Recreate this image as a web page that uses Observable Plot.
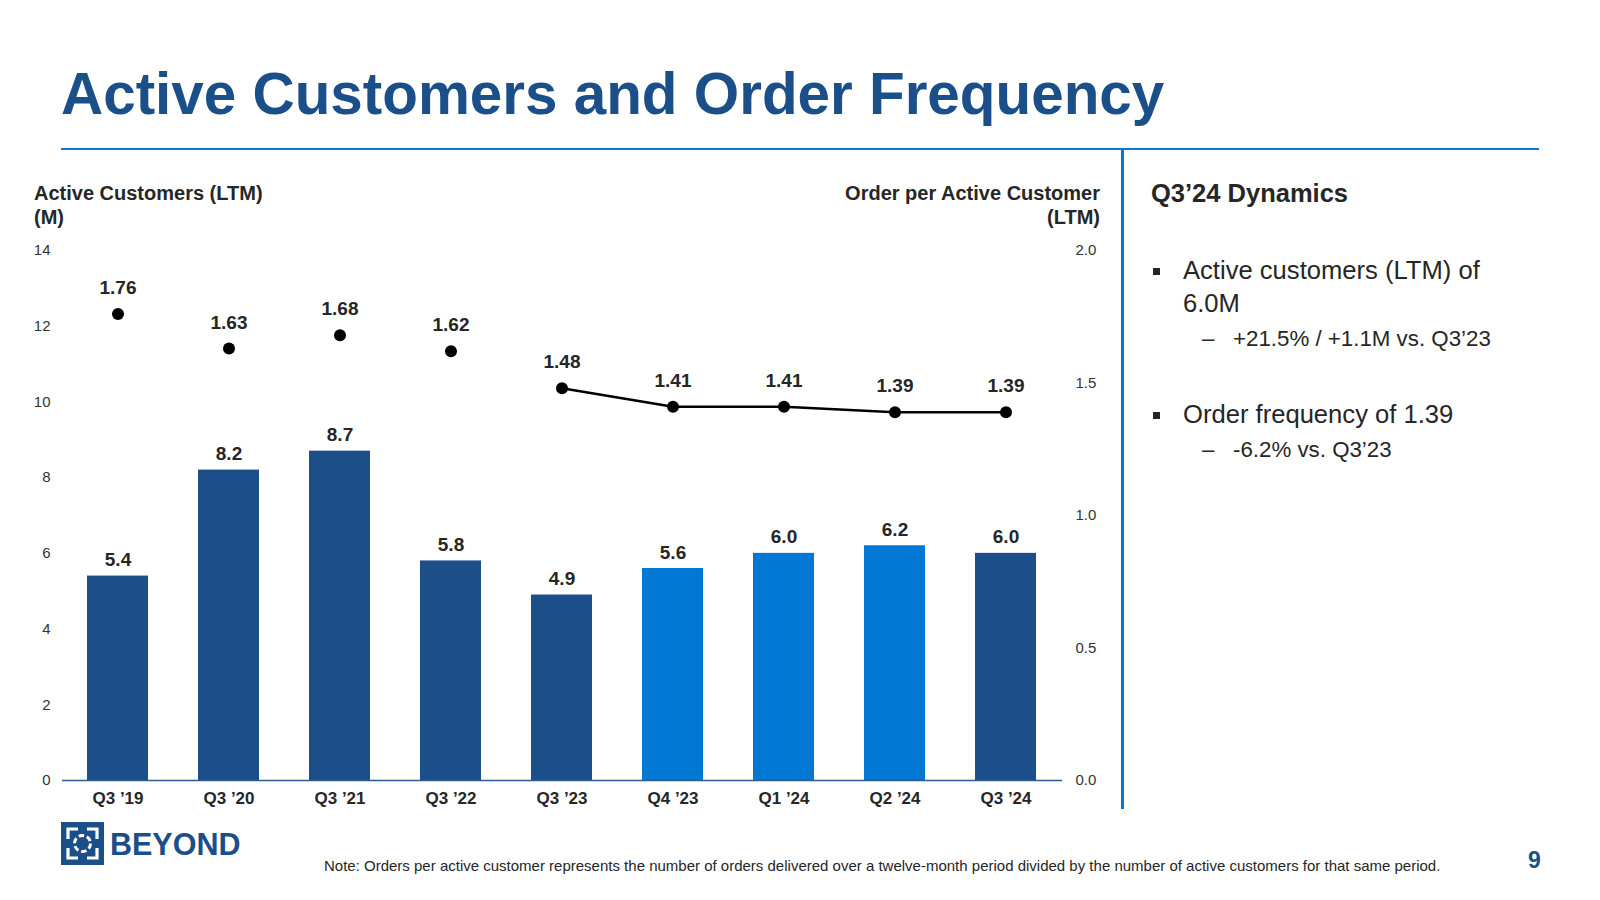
<!DOCTYPE html>
<html>
<head>
<meta charset="utf-8">
<script src="https://cdn.jsdelivr.net/npm/d3@7"></script>
<script src="https://cdn.jsdelivr.net/npm/@observablehq/plot@0.6"></script>
<style>
  html, body { margin: 0; padding: 0; background: #fff; }
  body { width: 1600px; height: 900px; position: relative; overflow: hidden; font-family: "Liberation Sans", Arial, sans-serif; color: #262626; }
  .abs { position: absolute; line-height: 1; white-space: nowrap; }
  #title { left: 61px; top: 65px; font-size: 58.4px; font-weight: bold; color: #1b4f8a; }
  #hline { left: 61px; top: 148px; width: 1478px; height: 2px; background: #0a78d2; }
  #vline { left: 1121px; top: 150px; width: 3px; height: 659px; background: #0a78d2; }
  #chart { position: absolute; left: 0; top: 228px; }
  .axtitle { font-size: 20px; font-weight: bold; color: #262626; line-height: 24px; }
  #ltitle { left: 34px; top: 181px; }
  #rtitle { left: 700px; width: 400px; top: 181px; text-align: right; }
  #dyn { left: 1151px; top: 181px; font-size: 25.5px; font-weight: bold; color: #262626; }
  .b1 { font-size: 25.6px; color: #262626; }
  .b2 { font-size: 22.3px; color: #262626; }
  .sq { position: absolute; width: 7px; height: 7px; background: #262626; }
  .note { left: 324px; top: 858px; font-size: 15px; color: #262626; }
  #pg { left: 1528px; top: 849px; font-size: 23px; font-weight: bold; color: #1b4f8a; }
  #logo { left: 61px; top: 822px; }
  #logotext { left: 110px; top: 829px; font-size: 30.5px; font-weight: bold; color: #1b4f8a; }
</style>
</head>
<body>
<div id="title" class="abs">Active Customers and Order Frequency</div>
<div id="hline" class="abs"></div>
<div id="vline" class="abs"></div>

<div id="ltitle" class="abs axtitle">Active Customers (LTM)<br>(M)</div>
<div id="rtitle" class="abs axtitle">Order per Active Customer<br>(LTM)</div>

<div id="chart"></div>

<div id="dyn" class="abs">Q3’24 Dynamics</div>
<div class="sq" style="left:1153px; top:268px;"></div>
<div class="abs b1" style="left:1183px; top:258px;">Active customers (LTM) of</div>
<div class="abs b1" style="left:1183px; top:291px;">6.0M</div>
<div class="abs b2" style="left:1202px; top:328px;">–</div>
<div class="abs b2" style="left:1233px; top:328px;">+21.5% / +1.1M vs. Q3’23</div>
<div class="sq" style="left:1153px; top:412px;"></div>
<div class="abs b1" style="left:1183px; top:402px;">Order frequency of 1.39</div>
<div class="abs b2" style="left:1202px; top:439px;">–</div>
<div class="abs b2" style="left:1233px; top:439px;">-6.2% vs. Q3’23</div>

<svg id="logo" class="abs" width="43" height="43" viewBox="0 0 43 43">
  <rect x="0" y="0" width="43" height="43" fill="#1b4f8a"/>
  <g fill="none" stroke="#fff" stroke-width="3.2">
    <path d="M7 17 V7 H17"/>
    <path d="M26 7 H36 V17"/>
    <path d="M36 26 V36 H26"/>
    <path d="M17 36 H7 V26"/>
    <circle cx="21.5" cy="21.5" r="8" stroke-dasharray="5.5 2.9" stroke-width="3"/>
  </g>
</svg>
<div id="logotext" class="abs">BEYOND</div>
<div class="abs note">Note: Orders per active customer represents the number of orders delivered over a twelve-month period divided by the number of active customers for that same period.</div>
<div id="pg" class="abs">9</div>

<script>
const quarters = ["Q3 ’19", "Q3 ’20", "Q3 ’21", "Q3 ’22", "Q3 ’23", "Q4 ’23", "Q1 ’24", "Q2 ’24", "Q3 ’24"];
const activeCustomers = [5.4, 8.2, 8.7, 5.8, 4.9, 5.6, 6.0, 6.2, 6.0];
const orderFrequency = [1.76, 1.63, 1.68, 1.62, 1.48, 1.41, 1.41, 1.39, 1.39];
const connectedQuarters = ["Q3 ’23", "Q4 ’23", "Q1 ’24", "Q2 ’24", "Q3 ’24"];
const highlightedQuarters = ["Q4 ’23", "Q1 ’24", "Q2 ’24"];
const leftTicks = [0, 2, 4, 6, 8, 10, 12, 14];
const rightTicks = [0.0, 0.5, 1.0, 1.5, 2.0];

const DARK = "#1c4e89";
const BRIGHT = "#0078d4";
const RATIO = 14 / 2.0; // right axis 0–2.0 maps onto left axis 0–14

const data = quarters.map((q, i) => ({
  quarter: q,
  customers: activeCustomers[i],
  freq: orderFrequency[i],
  highlighted: highlightedQuarters.includes(q)
}));
const lineData = data.filter(d => connectedQuarters.includes(d.quarter));

const chart = Plot.plot({
  width: 1120,
  height: 602,
  marginTop: 22,
  marginBottom: 50,
  marginLeft: 62,
  marginRight: 58,
  style: { fontFamily: "'Liberation Sans', Arial, sans-serif", background: "transparent" },
  x: { domain: quarters, paddingInner: 0.45, paddingOuter: 0.216, label: null },
  y: { domain: [0, 14], label: null },
  marks: [
    Plot.barY(data, { x: "quarter", y: "customers", fill: d => d.highlighted ? BRIGHT : DARK }),
    Plot.ruleY([0], { stroke: "#2d5b8e", strokeWidth: 1.6 }),
    Plot.axisY({ anchor: "left", ticks: leftTicks, tickSize: 0, tickPadding: 12, fontSize: 15, fill: "#333", label: null }),
    Plot.axisY({ anchor: "right", ticks: rightTicks.map(v => v * RATIO), tickFormat: d => (d / RATIO).toFixed(1), tickSize: 0, tickPadding: 13, fontSize: 15, fill: "#333", label: null }),
    Plot.axisX({ anchor: "bottom", tickSize: 0, tickPadding: 11, fontSize: 17, fontWeight: "bold", fill: "#262626", label: null }),
    Plot.text(data, { x: "quarter", y: "customers", text: d => d.customers.toFixed(1), dy: -16, fontSize: 19, fontWeight: "bold", fill: "#262626" }),
    Plot.line(lineData, { x: "quarter", y: d => d.freq * RATIO, stroke: "#000", strokeWidth: 2.5 }),
    Plot.dot(data, { x: "quarter", y: d => d.freq * RATIO, r: 6, fill: "#000" }),
    Plot.text(data, { x: "quarter", y: d => d.freq * RATIO, text: d => d.freq.toFixed(2), dy: -26, fontSize: 19, fontWeight: "bold", fill: "#262626" })
  ]
});
document.getElementById("chart").appendChild(chart);
</script>
</body>
</html>
